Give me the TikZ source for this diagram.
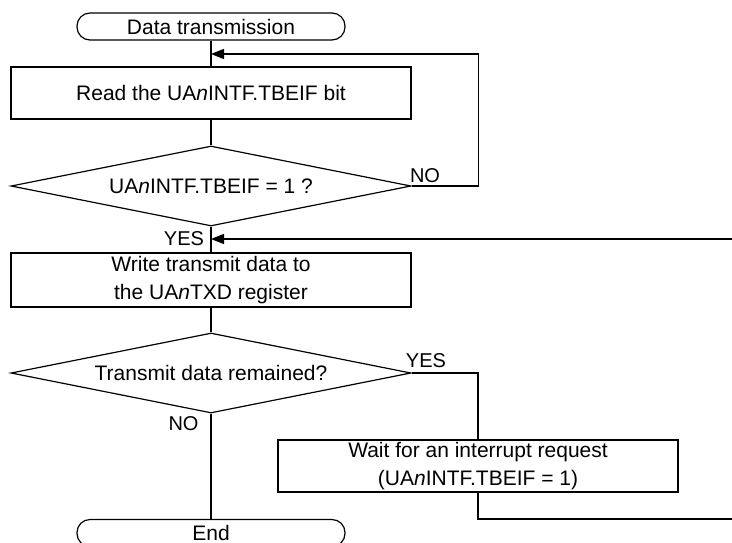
\documentclass[tikz,border=0pt]{standalone}
\usepackage{fontspec}
\setmainfont{Liberation Sans}
\usetikzlibrary{shapes.geometric,arrows.meta}

\begin{document}
\begin{tikzpicture}[x=0.5pt,y=-0.5pt,line width=0.6pt,
  font=\fontsize{10.5}{14}\selectfont,
  term/.style={draw,rounded corners=6.5pt,minimum width=134pt,minimum height=13.5pt,inner sep=0pt},
  proc/.style={draw,minimum width=200pt,minimum height=26pt,inner sep=0pt,align=center},
  decide/.style={draw,diamond,aspect=5,minimum width=200pt,minimum height=40pt,inner sep=0pt},
  lbl/.style={font=\fontsize{10}{12}\selectfont,inner sep=0pt},
  tip/.style={-{Triangle[length=6.5pt,width=5pt]}}]
  \useasboundingbox (0,0) rectangle (732,542);
  % flow boxes
  \node[term] (start) at (211,26.5) {Data transmission};
  \node[proc] (read) at (211,93) {Read the UA\textit{n}INTF.TBEIF bit};
  \node[decide] (chk) at (211,186) {UA\textit{n}INTF.TBEIF = 1 ?};
  \node[proc,minimum height=27pt] (write) at (211,280) {Write transmit data to\\the UA\textit{n}TXD register};
  \node[decide] (more) at (211,373) {Transmit data remained?};
  \node[proc] (wait) at (478,466) {Wait for an interrupt request\\(UA\textit{n}INTF.TBEIF = 1)};
  \node[term] (stop) at (211,533) {End};
  % loop ends
  \coordinate (back1) at (211,54);
  \coordinate (back2) at (211,239);
  \coordinate (edge1) at (732,239);
  \coordinate (edge2) at (732,519);
  % connectors
  \draw (start) -- (read);
  \draw (read) -- (chk);
  \draw (chk) -- (write);
  \draw (write) -- (more);
  \draw (more) -- (stop);
  \draw[tip] (chk.east) -- ++(67,0) |- (back1);
  \draw (more.east) -| (wait.north);
  \draw (wait.south) |- (edge2);
  \draw[tip] (edge1) -- (back2);
  % branch labels
  \node[lbl] (no1) at (425,176) {NO};
  \node[lbl] (yes1) at (184,239) {YES};
  \node[lbl] (yes2) at (426,361) {YES};
  \node[lbl] (no2) at (183.5,424) {NO};
\end{tikzpicture}
\end{document}
